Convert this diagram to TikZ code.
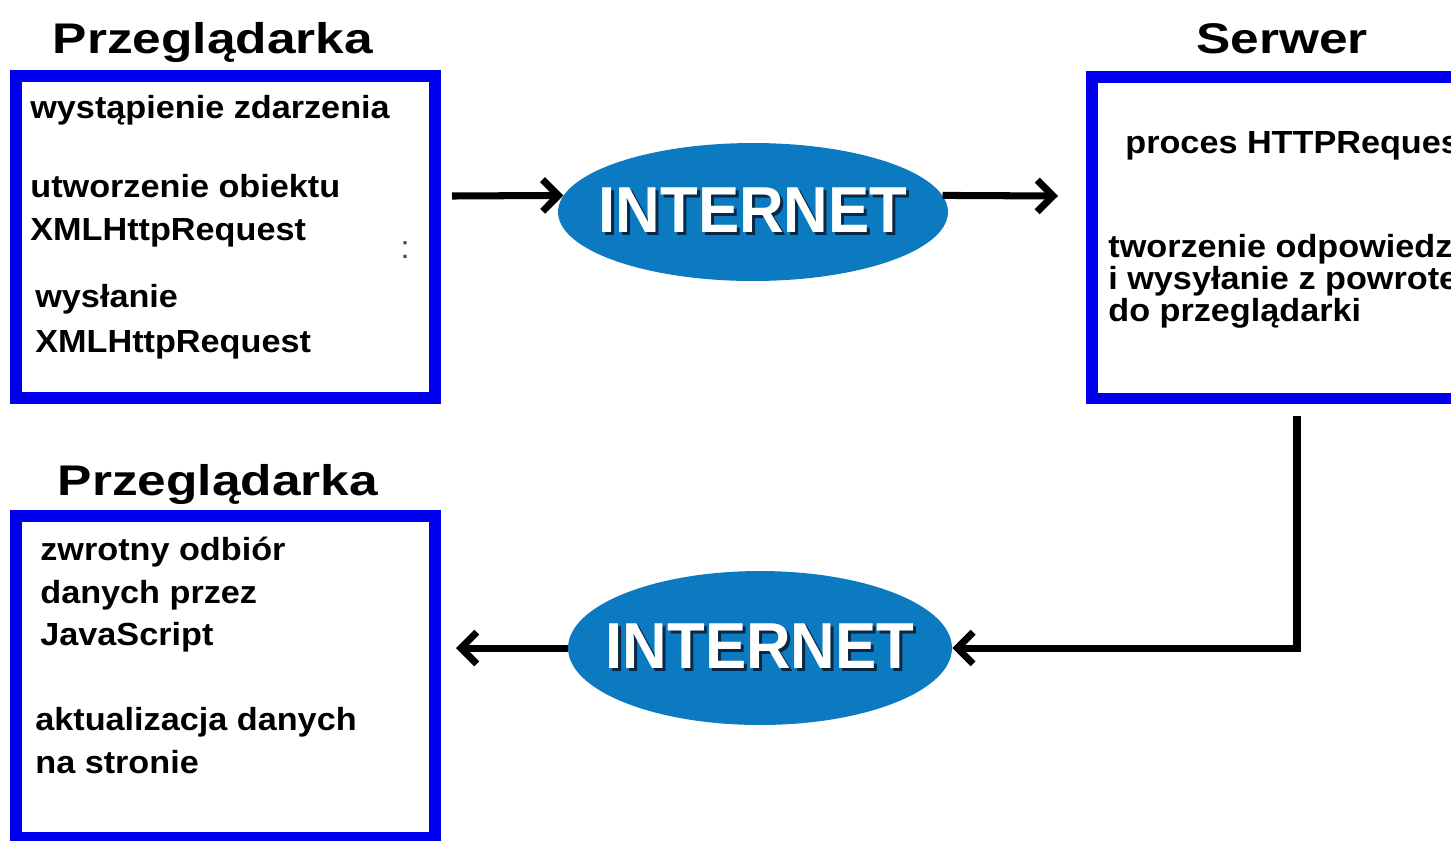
\documentclass[tikz,border=0pt]{standalone}
\usepackage{fontspec}
\setmainfont{Liberation Sans}
\newfontfamily\bodyfont[FakeStretch=1.07]{Liberation Sans}
\newfontfamily\headfont[FakeStretch=1.2]{Liberation Sans}
\newfontfamily\netfont[FakeStretch=0.95]{Liberation Sans}
\usetikzlibrary{arrows.meta,shapes.geometric}
\definecolor{FrameClr}{RGB}{0,0,238}
\definecolor{NetClr}{RGB}{12,122,192}
\definecolor{ShadowClr}{RGB}{10,40,70}
\newcommand{\netword}{\makebox[0pt]{\makebox[0pt][l]{\hspace{1.7pt}\raisebox{-1.7pt}{\color{ShadowClr}INTERNET}}\color{white}INTERNET}}

\begin{document}
\begin{tikzpicture}[x=0.02cm,y=-0.02cm,
  panel/.style={draw=FrameClr,line width=6.8pt,minimum height=6.44cm,inner sep=0pt},
  head/.style={font=\headfont\bfseries\fontsize{24.4}{28}\selectfont,anchor=base,inner sep=0pt},
  txt/.style={font=\bodyfont\bfseries\fontsize{18.2}{20}\selectfont,anchor=base west,inner sep=0pt},
  net/.style={ellipse,fill=NetClr,inner sep=0pt,font=\netfont\bfseries\fontsize{37}{40}\selectfont},
  link/.style={line width=4pt},
  arrowed/.style={-{Straight Barb[length=9pt,width=18pt]}}]
\useasboundingbox (0,0) rectangle (1451,840);
\clip (0,0) rectangle (1451,840);

% boxes
\node[panel,minimum width=8.38cm] (box1) at (225.5,237) {};
\node[panel,minimum width=8.22cm] (box2) at (1297,237.5) {};
\node[panel,minimum width=8.38cm] (box3) at (225.5,677) {};

\node[head] (head1) at (213,53) {Przeglądarka};
\node[head] (head2) at (1282,53) {Serwer};
\node[head] (head3) at (218,495) {Przeglądarka};

% browser, first step
\node[txt] (t11) at (30,118) {wystąpienie zdarzenia};
\node[txt] (t12) at (30,197) {utworzenie obiektu};
\node[txt] (t13) at (30,240) {XMLHttpRequest};
\node[txt] (t14) at (35,307) {wysłanie};
\node[txt] (t15) at (35,352) {XMLHttpRequest};
\node[txt,font=\bodyfont\fontsize{18.2}{20}\selectfont,text=black!70] (dots) at (400,258) {:};

% server
\node[txt] (t21) at (1125,153) {proces HTTPRequest};
\node[txt] (t22) at (1108,257) {tworzenie odpowiedzi};
\node[txt] (t23) at (1108,289) {i wysyłanie z powrotem};
\node[txt] (t24) at (1108,321) {do przeglądarki};

% browser, answer
\node[txt] (t31) at (40,560) {zwrotny odbiór};
\node[txt] (t32) at (40,603) {danych przez};
\node[txt] (t33) at (40,645) {JavaScript};
\node[txt] (t34) at (35,730) {aktualizacja danych};
\node[txt] (t35) at (35,773) {na stronie};

% internet
\node[net,minimum width=7.8cm,minimum height=2.76cm] (net1) at (753,212) {\netword};
\node[net,minimum width=7.68cm,minimum height=3.08cm] (net2) at (760,648) {\netword};

\coordinate (a1) at (452,196);
\coordinate (a2) at (1058,196);
\coordinate (a3) at (456,648);

\draw[link,arrowed] (a1) -- (net1.175);
\draw[link,arrowed] (net1.5) -- (a2);
\draw[link,arrowed,shorten <=0.24cm] (box2.south) |- (net2.east);
\draw[link,arrowed] (net2.west) -- (a3);

\end{tikzpicture}
\end{document}
